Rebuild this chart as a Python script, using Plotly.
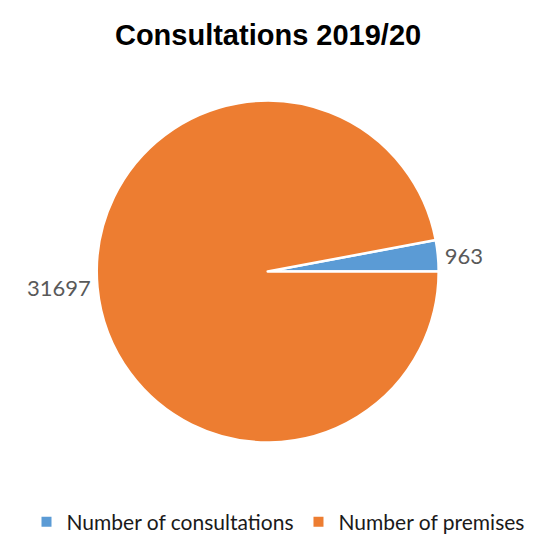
import plotly.graph_objects as go

labels = ["Number of consultations", "Number of premises"]
values = [963, 31697]
colors = ["#5B9BD5", "#ED7D31"]
title_text = "Consultations 2019/20"

# first slice sits just above 3 o'clock, ending there
first_angle = 360 * values[0] / sum(values)

fig = go.Figure(go.Pie(
    labels=labels,
    values=values,
    sort=False,
    direction="clockwise",
    rotation=90 - first_angle,
    marker=dict(colors=colors, line=dict(color="white", width=2.5)),
    texttemplate="%{value:d}",
    textposition="outside",
    textfont=dict(family="Lato", size=22, color="#595959"),
    domain=dict(x=[0.143, 0.818], y=[0.174, 0.824]),
    hoverinfo="label+value",
))

fig.update_layout(
    width=534, height=535,
    margin=dict(l=0, r=0, t=0, b=0),
    paper_bgcolor="white",
    title=dict(text="<b>" + title_text + "</b>", x=0.487, xanchor="center",
               y=1 - 27/535, yanchor="middle",
               font=dict(family="Liberation Sans", size=29, color="black")),
    showlegend=True,
    legend=dict(orientation="h", x=0.5, xanchor="center", y=1 - 523/535, yanchor="middle",
                font=dict(family="Lato", size=21, color="#1a1a1a"),
                itemsizing="constant"),
)

fig.write_html("out.html")
